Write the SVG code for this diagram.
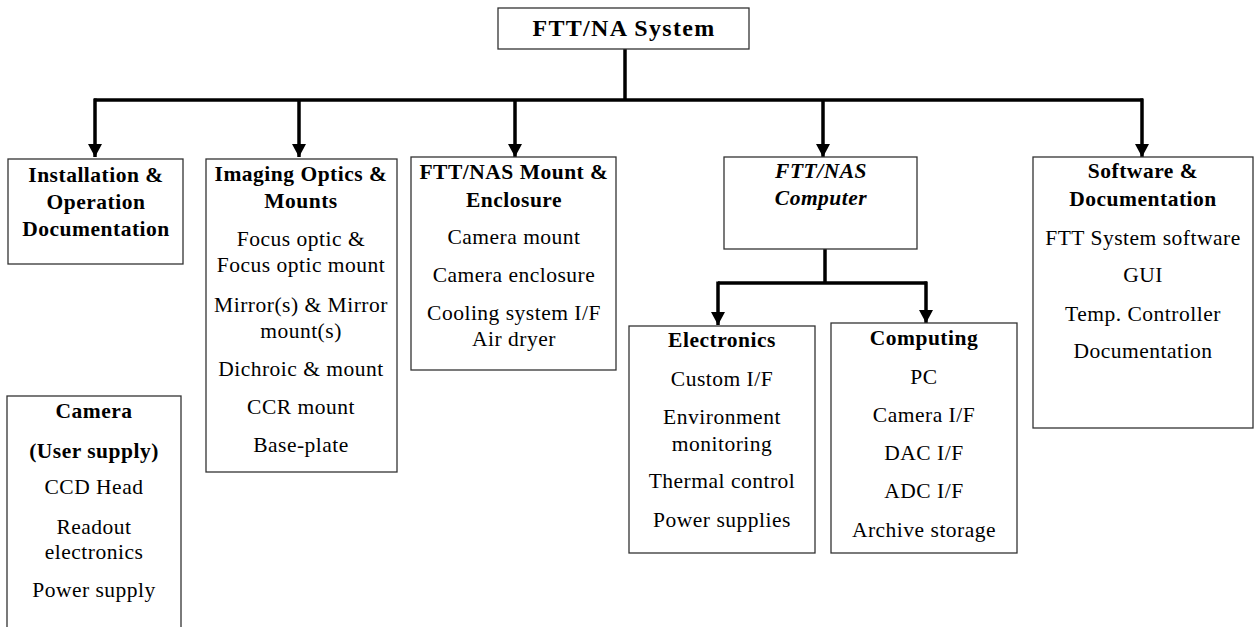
<svg xmlns="http://www.w3.org/2000/svg" width="1254" height="627" viewBox="0 0 1254 627">
<style>
  .box { fill: #fff; stroke: #333; stroke-width: 1.3; }
  .h { font-family: "Liberation Serif", "Times New Roman", serif; font-size: 21.5px; font-weight: bold; text-anchor: middle; letter-spacing: 0.5px; fill: #000; }
  .t { font-family: "Liberation Serif", "Times New Roman", serif; font-size: 21.5px; text-anchor: middle; letter-spacing: 0.5px; fill: #000; }
  .hi { font-style: italic; }
  .title { font-size: 24px; letter-spacing: 1.3px; }
  .c { fill: none; stroke: #000; stroke-width: 3.5; }
</style>
<defs>
  <marker id="arr" markerUnits="userSpaceOnUse" markerWidth="14" markerHeight="14" refX="13" refY="7" orient="auto">
    <path d="M0,0 L13,7 L0,14 z" fill="#000"/>
  </marker>
</defs>
<rect width="1254" height="627" fill="#fff"/>

<g id="connectors">
  <path class="c" d="M625,49 V100"/>
  <path class="c" d="M94,100 H1143"/>
  <path class="c" d="M95,98.5 V157" marker-end="url(#arr)"/>
  <path class="c" d="M299,100 V157" marker-end="url(#arr)"/>
  <path class="c" d="M515,100 V157" marker-end="url(#arr)"/>
  <path class="c" d="M823,100 V157" marker-end="url(#arr)"/>
  <path class="c" d="M1142,98.5 V157" marker-end="url(#arr)"/>
  <path class="c" d="M825,249 V283"/>
  <path class="c" d="M718,283 H927"/>
  <path class="c" d="M718,281.5 V325" marker-end="url(#arr)"/>
  <path class="c" d="M926,281.5 V323" marker-end="url(#arr)"/>
</g>

<g id="root">
  <rect class="box" x="498" y="8" width="251" height="41"/>
  <text class="h title" x="624" y="36">FTT/NA System</text>
</g>

<g id="installation">
  <rect class="box" x="8" y="159" width="175" height="105"/>
  <text class="h" x="96" y="182">Installation &amp;</text>
  <text class="h" x="96" y="209">Operation</text>
  <text class="h" x="96" y="236">Documentation</text>
</g>

<g id="imaging">
  <rect class="box" x="206" y="159" width="191" height="313"/>
  <text class="h" x="301" y="181">Imaging Optics &amp;</text>
  <text class="h" x="301" y="208">Mounts</text>
  <text class="t" x="301" y="246">Focus optic &amp;</text>
  <text class="t" x="301" y="272">Focus optic mount</text>
  <text class="t" x="301" y="312">Mirror(s) &amp; Mirror</text>
  <text class="t" x="301" y="338">mount(s)</text>
  <text class="t" x="301" y="376">Dichroic &amp; mount</text>
  <text class="t" x="301" y="414">CCR mount</text>
  <text class="t" x="301" y="452">Base-plate</text>
</g>

<g id="mount">
  <rect class="box" x="411" y="157" width="205" height="213"/>
  <text class="h" x="514" y="179">FTT/NAS Mount &amp;</text>
  <text class="h" x="514" y="207">Enclosure</text>
  <text class="t" x="514" y="244">Camera mount</text>
  <text class="t" x="514" y="282">Camera enclosure</text>
  <text class="t" x="514" y="320">Cooling system I/F</text>
  <text class="t" x="514" y="346">Air dryer</text>
</g>

<g id="computer">
  <rect class="box" x="724" y="157" width="193" height="92"/>
  <text class="h hi" x="821" y="178">FTT/NAS</text>
  <text class="h hi" x="821" y="205">Computer</text>
</g>

<g id="electronics">
  <rect class="box" x="629" y="326" width="186" height="227"/>
  <text class="h" x="722" y="347">Electronics</text>
  <text class="t" x="722" y="386">Custom I/F</text>
  <text class="t" x="722" y="424">Environment</text>
  <text class="t" x="722" y="451">monitoring</text>
  <text class="t" x="722" y="488">Thermal control</text>
  <text class="t" x="722" y="527">Power supplies</text>
</g>

<g id="computing">
  <rect class="box" x="831" y="323" width="186" height="230"/>
  <text class="h" x="924" y="345">Computing</text>
  <text class="t" x="924" y="384">PC</text>
  <text class="t" x="924" y="422">Camera I/F</text>
  <text class="t" x="924" y="460">DAC I/F</text>
  <text class="t" x="924" y="498">ADC I/F</text>
  <text class="t" x="924" y="537">Archive storage</text>
</g>

<g id="software">
  <rect class="box" x="1033" y="157" width="220" height="271"/>
  <text class="h" x="1143" y="178">Software &amp;</text>
  <text class="h" x="1143" y="206">Documentation</text>
  <text class="t" x="1143" y="245">FTT System software</text>
  <text class="t" x="1143" y="282">GUI</text>
  <text class="t" x="1143" y="321">Temp. Controller</text>
  <text class="t" x="1143" y="358">Documentation</text>
</g>

<g id="camera">
  <rect class="box" x="7" y="396" width="174" height="260"/>
  <text class="h" x="94" y="418">Camera</text>
  <text class="h" x="94" y="458">(User supply)</text>
  <text class="t" x="94" y="494">CCD Head</text>
  <text class="t" x="94" y="534">Readout</text>
  <text class="t" x="94" y="559">electronics</text>
  <text class="t" x="94" y="597">Power supply</text>
</g>
</svg>
